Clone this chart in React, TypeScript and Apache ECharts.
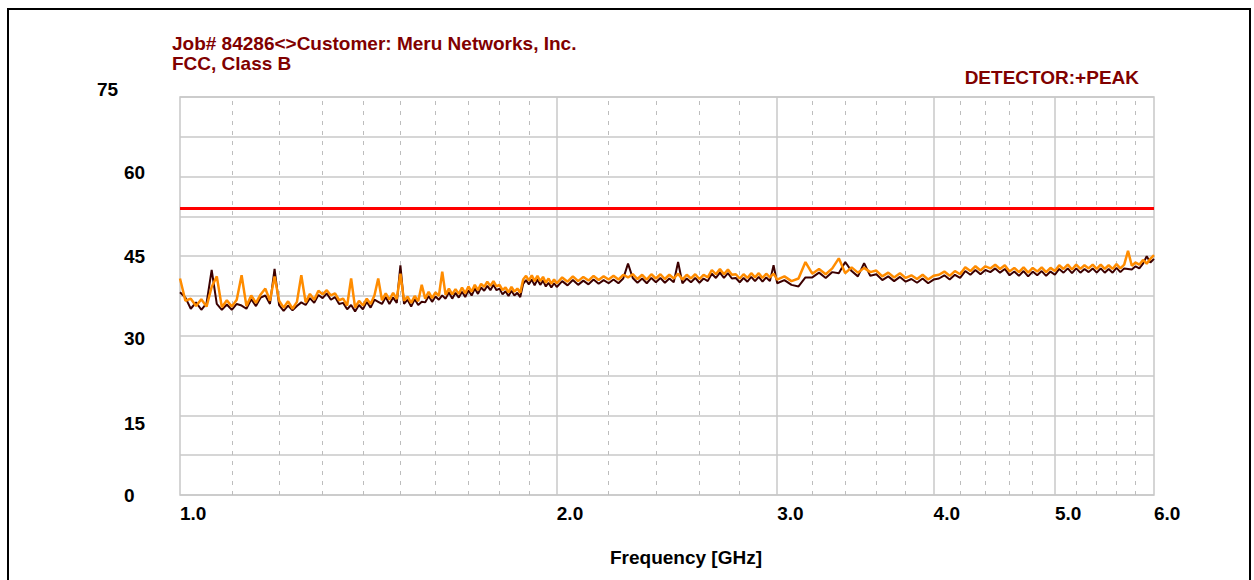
import React, { useEffect, useRef } from "react";
import * as echarts from "echarts";

const titleLines = ["Job# 84286<>Customer: Meru Networks, Inc.", "FCC, Class B"];
const detectorText = "DETECTOR:+PEAK";
const xAxisName = "Frequency [GHz]";

const xTickValues = [1, 2, 3, 4, 5, 6];
const xTickLabels = ["1.0", "2.0", "3.0", "4.0", "5.0", "6.0"];
const xMajorGrid = [2, 3, 4, 5];
const xMinorGrid = [1.1, 1.2, 1.3, 1.4, 1.5, 1.6, 1.7, 1.8, 1.9, 2.2, 2.4, 2.6, 2.8, 3.2, 3.4, 3.6, 3.8, 4.2, 4.4, 4.6, 4.8, 5.2, 5.4, 5.6, 5.8];

const yTickValues = [0, 15, 30, 45, 60, 75];
const yTickLabels = ["0", "15", "30", "45", "60", "75"];

const limitFreqs = [1, 6];
const limitValues = [54, 54];

const freqs = [
  1.00, 1.01, 1.02, 1.03, 1.04, 1.05, 1.06, 1.07, 1.08, 1.09,
  1.10, 1.11, 1.12, 1.13, 1.14, 1.15, 1.16, 1.17, 1.18, 1.19,
  1.20, 1.21, 1.22, 1.23, 1.24, 1.25, 1.26, 1.27, 1.28, 1.29,
  1.30, 1.31, 1.32, 1.33, 1.34, 1.35, 1.36, 1.37, 1.38, 1.39,
  1.40, 1.41, 1.42, 1.43, 1.44, 1.45, 1.46, 1.47, 1.48, 1.49,
  1.50, 1.51, 1.52, 1.53, 1.54, 1.55, 1.56, 1.57, 1.58, 1.59,
  1.60, 1.61, 1.62, 1.63, 1.64, 1.65, 1.66, 1.67, 1.68, 1.69,
  1.70, 1.71, 1.72, 1.73, 1.74, 1.75, 1.76, 1.77, 1.78, 1.79,
  1.80, 1.81, 1.82, 1.83, 1.84, 1.85, 1.86, 1.87, 1.88, 1.89,
  1.90, 1.91, 1.92, 1.93, 1.94, 1.95, 1.96, 1.97, 1.98, 1.99,
  2.00,
  2.02, 2.04, 2.06, 2.08, 2.10, 2.12, 2.14, 2.16, 2.18, 2.20,
  2.22, 2.24, 2.26, 2.28, 2.30, 2.32, 2.34, 2.36, 2.38, 2.40,
  2.42, 2.44, 2.46, 2.48, 2.50, 2.52, 2.54, 2.56, 2.58, 2.60,
  2.62, 2.64, 2.66, 2.68, 2.70, 2.72, 2.74, 2.76, 2.78, 2.80,
  2.82, 2.84, 2.86, 2.88, 2.90, 2.92, 2.94, 2.96, 2.98, 3.00,
  3.04, 3.08, 3.12, 3.16, 3.20, 3.24, 3.28, 3.32, 3.36, 3.40,
  3.44, 3.48, 3.52, 3.56, 3.60, 3.64, 3.68, 3.72, 3.76, 3.80,
  3.84, 3.88, 3.92, 3.96, 4.00, 4.04, 4.08, 4.12, 4.16, 4.20,
  4.24, 4.28, 4.32, 4.36, 4.40, 4.44, 4.48, 4.52, 4.56, 4.60,
  4.64, 4.68, 4.72, 4.76, 4.80, 4.84, 4.88, 4.92, 4.96, 5.00,
  5.04, 5.08, 5.12, 5.16, 5.20, 5.24, 5.28, 5.32, 5.36, 5.40,
  5.44, 5.48, 5.52, 5.56, 5.60, 5.64, 5.68, 5.72, 5.76, 5.80,
  5.84, 5.88, 5.92, 5.96, 6.00,
];

// orange trace (drawn on top)
const peakOrange = [
  40.8, 36.6, 37.0, 35.6, 36.9, 35.5, 39.2, 41.2, 35.4, 36.7,
  35.5, 36.8, 41.4, 35.6, 37.6, 36.2, 37.8, 38.9, 36.6, 41.2,
  36.6, 35.3, 36.5, 35.1, 36.4, 41.4, 36.3, 37.9, 36.8, 38.5,
  37.8, 38.6, 37.6, 38.0, 36.7, 37.0, 35.7, 40.8, 35.3, 36.6,
  35.7, 37.0, 36.0, 37.6, 40.8, 36.7, 38.0, 36.8, 38.1, 36.9,
  41.7, 36.6, 37.4, 36.2, 37.5, 36.5, 39.6, 37.0, 38.3, 37.1,
  38.2, 37.5, 42.1, 37.7, 38.9, 37.8, 38.8, 37.9, 39.1, 38.0,
  39.3, 38.3, 39.6, 38.6, 39.8, 39.2, 40.2, 39.4, 40.3, 39.3,
  39.6, 38.6, 39.1, 38.2, 39.2, 38.3, 38.9, 38.1, 40.6, 41.3,
  40.4, 41.4, 40.3, 41.3, 40.3, 41.1, 40.0, 40.8, 39.8, 40.6,
  39.9,
  41.0, 40.2, 41.2, 40.3, 41.1, 40.4, 41.3, 40.5, 41.2, 40.6,
  41.3, 40.6, 41.5, 41.0, 41.6, 40.7, 41.5, 40.6, 41.6, 40.8,
  41.6, 40.7, 41.5, 40.8, 41.7, 40.6, 41.5, 40.8, 41.6, 40.7,
  41.5, 41.0, 42.4, 41.6, 42.6, 41.6, 42.5, 41.5, 41.6, 40.8,
  41.6, 40.9, 41.8, 41.0, 41.8, 40.9, 41.7, 41.0, 41.7, 40.6,
  41.2, 40.3, 40.8, 43.9, 41.7, 42.6, 41.6, 42.7, 44.6, 41.8,
  42.9, 41.9, 42.8, 42.0, 42.3, 41.2, 41.9, 41.0, 41.8, 40.9,
  41.4, 40.7, 41.5, 40.6, 41.3, 41.5, 42.1, 41.3, 42.2, 41.6,
  42.9, 42.2, 43.1, 42.3, 43.1, 42.7, 43.4, 42.6, 43.3, 42.1,
  42.8, 42.0, 42.9, 41.9, 42.8, 42.1, 42.9, 42.0, 42.8, 42.2,
  43.3, 42.6, 43.4, 42.5, 43.4, 42.6, 43.3, 42.7, 43.4, 42.6,
  43.4, 42.6, 43.3, 42.6, 43.5, 42.7, 43.4, 46.0, 43.2, 43.8,
  43.4, 44.3, 43.6, 44.5, 45.2,
];

// dark maroon trace (drawn underneath)
const peakDark = [
  38.2, 37.2, 35.1, 36.3, 34.9, 36.1, 42.4, 36.0, 34.9, 35.9,
  34.9, 36.0, 35.7, 35.1, 36.9, 35.6, 37.2, 37.6, 36.0, 42.6,
  35.8, 34.7, 35.7, 34.8, 35.6, 36.3, 35.8, 37.1, 36.2, 37.7,
  37.1, 38.0, 36.8, 37.3, 36.0, 36.2, 35.0, 35.8, 34.6, 35.8,
  35.0, 36.4, 35.3, 36.8, 36.4, 36.0, 37.3, 36.0, 37.2, 36.2,
  43.3, 36.0, 36.8, 35.5, 36.9, 35.8, 36.4, 36.3, 37.5, 36.4,
  37.4, 36.8, 37.6, 37.0, 38.2, 37.0, 38.1, 37.2, 38.3, 37.3,
  38.6, 37.6, 38.9, 37.9, 39.1, 38.5, 39.4, 38.6, 39.6, 38.6,
  38.9, 37.8, 38.4, 37.5, 38.5, 37.6, 38.1, 37.3, 39.8, 40.5,
  39.7, 40.6, 39.5, 40.6, 39.6, 40.4, 39.3, 40.0, 39.1, 39.9,
  39.2,
  40.3, 39.5, 40.5, 39.6, 40.4, 39.7, 40.6, 39.8, 40.5, 39.9,
  40.6, 39.9, 40.8, 43.6, 40.9, 40.0, 40.8, 39.9, 40.9, 40.1,
  40.9, 40.0, 40.8, 40.1, 43.9, 39.9, 40.8, 40.1, 40.9, 40.0,
  40.8, 40.3, 41.7, 40.9, 41.9, 40.9, 41.8, 40.8, 40.9, 40.1,
  40.9, 40.2, 41.1, 40.3, 41.1, 40.2, 41.0, 40.3, 43.3, 39.9,
  40.5, 39.6, 39.3, 41.0, 41.0, 41.9, 40.9, 42.0, 41.8, 43.9,
  42.2, 41.2, 43.7, 41.3, 41.6, 40.5, 41.2, 40.3, 41.1, 40.2,
  40.7, 40.0, 40.8, 39.9, 40.6, 40.8, 41.4, 40.6, 41.5, 40.9,
  42.2, 41.5, 42.4, 41.6, 42.4, 42.0, 42.7, 41.9, 42.6, 41.4,
  42.1, 41.3, 42.2, 41.2, 42.1, 41.4, 42.2, 41.3, 42.1, 41.5,
  42.6, 41.9, 42.7, 41.8, 42.7, 41.9, 42.6, 42.0, 42.7, 41.9,
  42.7, 41.9, 42.6, 41.9, 42.8, 42.0, 42.7, 42.6, 42.5, 43.1,
  42.7, 43.6, 45.0, 43.8, 44.5,
];

const FONT = "'Liberation Sans', Arial, sans-serif";
const GRID_COLOR = "#c8c8c8";

export default function App() {
  const ref = useRef<HTMLDivElement>(null);

  useEffect(() => {
    document.body.style.margin = "0";
    if (!ref.current) return;
    const chart = echarts.init(ref.current, null, { renderer: "svg" });

    const yRich: Record<string, any> = {};
    const yKeys = ["a", "b", "c", "d", "e", "f"];
    const yPads = [
      [0, 0, 0, 0],
      [16, 0, 0, 0],
      [6, 0, 0, 0],
      [0, 0, 0, 0],
      [0, 0, 8, 0],
      [0, 0, 16, 0],
    ];
    yKeys.forEach((k, i) => {
      yRich[k] = {
        width: i === 5 ? 50 : 23,
        align: "left",
        padding: yPads[i],
        fontFamily: FONT,
        fontSize: 19,
        fontWeight: "bold",
        color: "#000",
      };
    });

    const gridMarks = [
      ...xMinorGrid.map((v) => ({ xAxis: v, lineStyle: { type: [4, 6], color: "#bdbdbd", width: 1 } })),
      ...xMajorGrid.map((v) => ({ xAxis: v, lineStyle: { type: "solid", color: GRID_COLOR, width: 1.5 } })),
    ];

    chart.setOption({
      animation: false,
      backgroundColor: "#ffffff",
      title: {
        text: titleLines.join("\n"),
        left: 172,
        top: 33,
        padding: 0,
        textStyle: {
          fontFamily: FONT,
          fontSize: 19,
          lineHeight: 20,
          fontWeight: "bold",
          color: "#800000",
        },
      },
      graphic: [
        {
          type: "rect",
          shape: { x: 8, y: 9, width: 1242, height: 620 },
          style: { fill: "none", stroke: "#000", lineWidth: 2 },
          silent: true,
        },
        {
          type: "text",
          x: 1139,
          y: 68,
          style: {
            text: detectorText,
            fontFamily: FONT,
            fontSize: 19,
            fontWeight: "bold",
            fill: "#800000",
            textAlign: "right",
            textVerticalAlign: "top",
          },
        },
      ],
      grid: {
        left: 180,
        right: 100,
        top: 97,
        bottom: 85,
        show: true,
        borderColor: GRID_COLOR,
        borderWidth: 1.5,
        backgroundColor: "transparent",
      },
      xAxis: {
        type: "log",
        logBase: 10,
        min: 1,
        max: 6,
        axisLine: { show: false },
        axisTick: { show: false },
        splitLine: { show: false },
        minorSplitLine: { show: false },
        axisLabel: {
          customValues: xTickValues,
          showMinLabel: true,
          showMaxLabel: true,
          formatter: (v: number) => {
            const i = xTickValues.findIndex((t) => Math.abs(t - v) < 1e-6);
            return i >= 0 ? xTickLabels[i] : "";
          },
          align: "left",
          margin: 9,
          fontFamily: FONT,
          fontSize: 19,
          fontWeight: "bold",
          color: "#000",
        },
        name: xAxisName,
        nameLocation: "middle",
        nameGap: 53,
        nameTextStyle: {
          fontFamily: FONT,
          fontSize: 19,
          fontWeight: "bold",
          color: "#000",
          padding: [0, 0, 0, 38],
        },
      },
      yAxis: {
        type: "value",
        min: 0,
        max: 75,
        interval: 7.5,
        axisLine: { show: false },
        axisTick: { show: false },
        splitLine: { show: true, lineStyle: { color: GRID_COLOR, width: 1.5 } },
        axisLabel: {
          margin: 33,
          align: "right",
          formatter: (v: number) => {
            const i = yTickValues.findIndex((t) => Math.abs(t - v) < 1e-6);
            if (i < 0) return "";
            return `{${yKeys[i]}|${yTickLabels[i]}}`;
          },
          rich: yRich,
          fontFamily: FONT,
          fontSize: 19,
          fontWeight: "bold",
          color: "#000",
        },
      },
      series: [
        {
          name: "Limit",
          type: "line",
          data: limitFreqs.map((f, i) => [f, limitValues[i]]),
          showSymbol: false,
          symbol: "none",
          lineStyle: { color: "#ff0000", width: 3 },
          z: 4,
          silent: true,
          markLine: {
            silent: true,
            z: 1,
            symbol: ["none", "none"],
            label: { show: false },
            emphasis: { disabled: true },
            data: gridMarks,
          },
        },
        {
          name: "Peak (dark)",
          type: "line",
          data: freqs.map((f, i) => [f, peakDark[i]]),
          showSymbol: false,
          symbol: "none",
          lineStyle: { color: "#3c0000", width: 2 },
          z: 2,
          silent: true,
        },
        {
          name: "Peak (orange)",
          type: "line",
          data: freqs.map((f, i) => [f, peakOrange[i]]),
          showSymbol: false,
          symbol: "none",
          lineStyle: { color: "#ff8c00", width: 2.5 },
          z: 3,
          silent: true,
        },
      ],
    });

    return () => chart.dispose();
  }, []);

  return <div ref={ref} style={{ width: 1254, height: 580 }} />;
}
